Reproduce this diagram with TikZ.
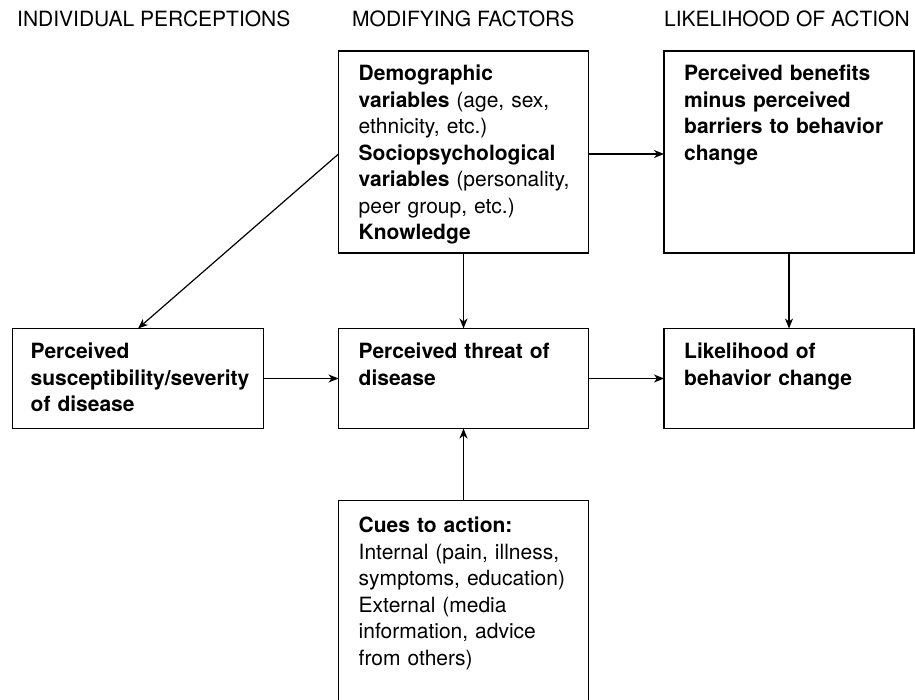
\documentclass[tikz,border=0pt]{standalone}
\usepackage{fontspec}
\setmainfont{TeX Gyre Heros}
\usetikzlibrary{arrows.meta,calc}
\begin{document}
\begin{tikzpicture}[x=1pt,y=-1pt,
  box/.style={draw, line width=1.2pt, rectangle, inner sep=0pt, outer sep=0pt},
  txt/.style={anchor=base west, inner sep=0pt, text width=245pt, align=left,
    font=\fontsize{21}{26.5}\selectfont},
  head/.style={anchor=base west, inner sep=0pt, font=\fontsize{21}{26.5}\selectfont},
  arr/.style={line width=1.2pt, -{Stealth[length=10pt,width=8pt,inset=3pt]}},
  ln/.style={line width=1.2pt}]
\useasboundingbox (0,0) rectangle (915,700);
\clip (0,0) rectangle (915,700);
% headers
\node[head] (h1) at (17,27) {INDIVIDUAL PERCEPTIONS};
\node[head] (h2) at (352,27) {MODIFYING FACTORS};
\node[head] (h3) at (664,27) {LIKELIHOOD OF ACTION};
% boxes
\node[box, minimum width=250pt, minimum height=202pt] (demo) at (463.5,152) {};
\node[box, minimum width=250pt, minimum height=202pt] (benefit) at (789,152) {};
\node[box, minimum width=251pt, minimum height=100pt] (susc) at (138,378.5) {};
\node[box, minimum width=250pt, minimum height=100pt] (threat) at (463.5,378.5) {};
\node[box, minimum width=250pt, minimum height=100pt] (likely) at (789,378.5) {};
\node[box, minimum width=250pt, minimum height=210pt] (cues) at (463.5,605.5) {};
% texts
\node[txt] (demotxt) at ($(demo.north west)+(20,30)$) {\textbf{Demographic}\\
\textbf{variables} (age, sex,\\ ethnicity, etc.)\\ \textbf{Sociopsychological}\\
\textbf{variables} (personality,\\ peer group, etc.)\\ \textbf{Knowledge}};
\node[txt] (benefittxt) at ($(benefit.north west)+(20,30)$) {\textbf{Perceived benefits}\\
\textbf{minus perceived}\\ \textbf{barriers to behavior}\\ \textbf{change}};
\node[txt] (susctxt) at ($(susc.north west)+(18,30.5)$) {\textbf{Perceived}\\
\textbf{susceptibility/severity}\\ \textbf{of disease}};
\node[txt] (threattxt) at ($(threat.north west)+(20,30)$) {\textbf{Perceived threat of}\\
\textbf{disease}};
\node[txt] (likelytxt) at ($(likely.north west)+(20,30)$) {\textbf{Likelihood of}\\
\textbf{behavior change}};
\node[txt] (cuestxt) at ($(cues.north west)+(20,32)$) {\textbf{Cues to action:}\\
Internal (pain, illness,\\ symptoms, education)\\ External (media\\
information, advice\\ from others)};
% connectors
\coordinate (dl) at ($(demo.west)+(0,2)$);
\coordinate (dr) at ($(demo.east)+(0,2)$);
\draw[arr] (dl) -- (susc.north);
\draw[arr] (dr) -- (benefit.west |- dr);
\draw[arr] (demo.south) -- (threat.north);
\draw[arr] (benefit.south) -- (likely.north);
\draw[arr] (susc.east) -- (threat.west);
\draw[arr] (threat.east) -- (likely.west);
\draw[arr] (cues.north) -- (threat.south);
\end{tikzpicture}
\end{document}
